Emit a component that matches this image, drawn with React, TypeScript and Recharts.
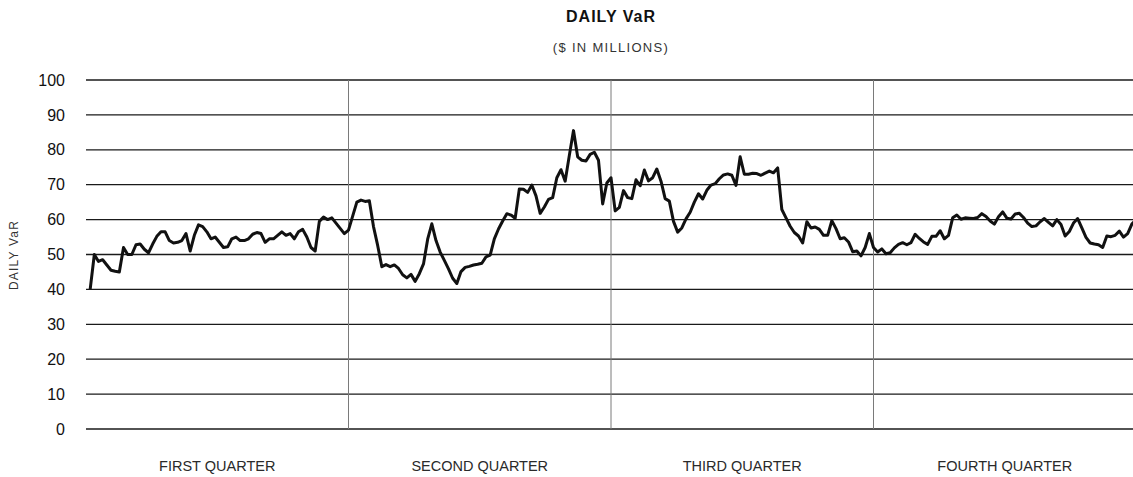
import React from 'react';
import { LineChart, Line, XAxis, YAxis, CartesianGrid, ReferenceLine } from 'recharts';

// daily VaR readings ($ millions), one quarter of trading days per array
const q1 = [
  40, 50, 48, 48.5, 47, 45.5, 45.2, 45, 52, 50, 50, 52.8, 53, 51.5, 50.5, 53, 55.2, 56.5, 56.5, 54, 53.3,
  53.5, 54, 56, 51, 55.5, 58.5, 58, 56.5, 54.5, 55, 53.5, 52, 52.2, 54.5, 55, 54, 54, 54.5, 55.8, 56.3, 56,
  53.5, 54.5, 54.5, 55.5, 56.5, 55.5, 56, 54.5, 56.5, 57.2, 55, 52, 51, 59.5, 60.7, 60, 60.5, 59, 57.5, 56, 57,
];
const q2 = [
  61, 65, 65.6, 65.2, 65.4, 58, 52.6, 46.5, 47.1, 46.5, 47, 46, 44.2, 43.3, 44.3, 42.3, 44.5, 47.3, 54.4, 58.8,
  54, 50.7, 48.3, 45.9, 43.2, 41.7, 45.1, 46.3, 46.6, 47, 47.2, 47.5, 49.3, 49.8, 54.5, 57.3, 59.6, 61.7, 61.3,
  60.4, 68.8, 68.7, 67.8, 69.9, 66.8, 61.8, 63.6, 65.8, 66.3, 72, 74.3, 71, 78.4, 85.5, 78, 77, 76.8, 78.7, 79.3,
  77, 64.5, 70.5, 72,
];
const q3 = [
  62.5, 63.5, 68.3, 66.3, 66, 71.4, 69.7, 74.2, 71.1, 72, 74.5, 71, 66, 65.3, 59.5, 56.4, 57.6, 60.2, 62.1, 65,
  67.4, 65.9, 68.4, 69.9, 70.3, 71.7, 72.8, 73.1, 72.7, 69.8, 78, 73, 73, 73.3, 73.2, 72.7, 73.3, 73.9, 73.4,
  74.8, 62.9, 60.5, 58.1, 56.3, 55.3, 53.3, 59.4, 57.6, 57.9, 57.2, 55.5, 55.5, 59.7, 57.4, 54.5, 54.8, 53.6,
  50.8, 51, 49.6, 52, 56, 52,
];
const q4 = [
  50.7, 51.6, 50.2, 50.5, 51.9, 52.9, 53.4, 52.8, 53.4, 55.8, 54.6, 53.6, 52.9, 55.2, 55.2, 56.8, 54.5, 55.5,
  60.5, 61.3, 60.1, 60.5, 60.4, 60.3, 60.6, 61.7, 60.9, 59.6, 58.7, 60.8, 62.2, 60.4, 60.2, 61.6, 61.8, 60.6, 59,
  58, 58.2, 59.4, 60.3, 59.2, 58.2, 60, 58.6, 55.3, 56.6, 59, 60.3, 57.6, 54.9, 53.3, 53, 52.8, 52, 55.3, 55.1,
  55.5, 56.7, 55, 56, 58.7, 60,
];

const quarterLabels = ['FIRST QUARTER', 'SECOND QUARTER', 'THIRD QUARTER', 'FOURTH QUARTER'];
const yTicks = [0, 10, 20, 30, 40, 50, 60, 70, 80, 90, 100];
const DAYS_PER_QUARTER = 63;

const data = [...q1, ...q2, ...q3, ...q4].map((v, i) => ({ day: i + 1, value: v }));
const quarterBreaks = [1, 2, 3].map((q) => q * DAYS_PER_QUARTER);
const quarterMids = quarterLabels.map((_, i) => (i + 0.5) * DAYS_PER_QUARTER);

const font = '"Liberation Sans", Arial, Helvetica, sans-serif';

export default function App() {
  return (
    <div
      style={{
        position: 'absolute',
        left: 0,
        top: 0,
        width: 1133,
        height: 477,
        overflow: 'hidden',
        background: '#fff',
        fontFamily: font,
      }}
    >
      <LineChart width={1140} height={477} data={data} margin={{ top: 80, right: 4, bottom: 0, left: 0 }}>
        <CartesianGrid vertical={false} stroke="#1a1a1a" strokeWidth={1.3} />
        <XAxis
          dataKey="day"
          type="number"
          domain={[0, DAYS_PER_QUARTER * 4]}
          ticks={quarterMids}
          interval={0}
          tickFormatter={(v: number) => quarterLabels[Math.floor(v / DAYS_PER_QUARTER)]}
          axisLine={false}
          tickLine={false}
          tickMargin={26}
          height={48}
          tick={{ fontSize: 14.5, fill: '#2a2a2a', fontFamily: font }}
        />
        <YAxis
          domain={[0, 100]}
          ticks={yTicks}
          interval={0}
          axisLine={false}
          tickLine={false}
          width={86}
          tickMargin={15}
          tick={{ fontSize: 16, fill: '#111', fontFamily: font }}
        />
        {quarterBreaks.map((b) => (
          <ReferenceLine key={b} x={b} stroke="#7a7a7a" strokeWidth={1} />
        ))}
        <Line
          type="linear"
          dataKey="value"
          stroke="#111"
          strokeWidth={3}
          strokeLinejoin="round"
          dot={false}
          isAnimationActive={false}
        />
      </LineChart>
      <svg
        width={1133}
        height={477}
        style={{ position: 'absolute', left: 0, top: 0, pointerEvents: 'none' }}
        fontFamily={font}
      >
        <text x={611} y={22} textAnchor="middle" fontSize={16} fontWeight="bold" letterSpacing={1} fill="#111">
          DAILY VaR
        </text>
        <text x={611} y={52} textAnchor="middle" fontSize={13} letterSpacing={1.3} fill="#333">
          ($ IN MILLIONS)
        </text>
        <text
          transform="translate(18,255) rotate(-90)"
          textAnchor="middle"
          fontSize={12}
          letterSpacing={1.2}
          fill="#333"
        >
          DAILY VaR
        </text>
      </svg>
    </div>
  );
}
